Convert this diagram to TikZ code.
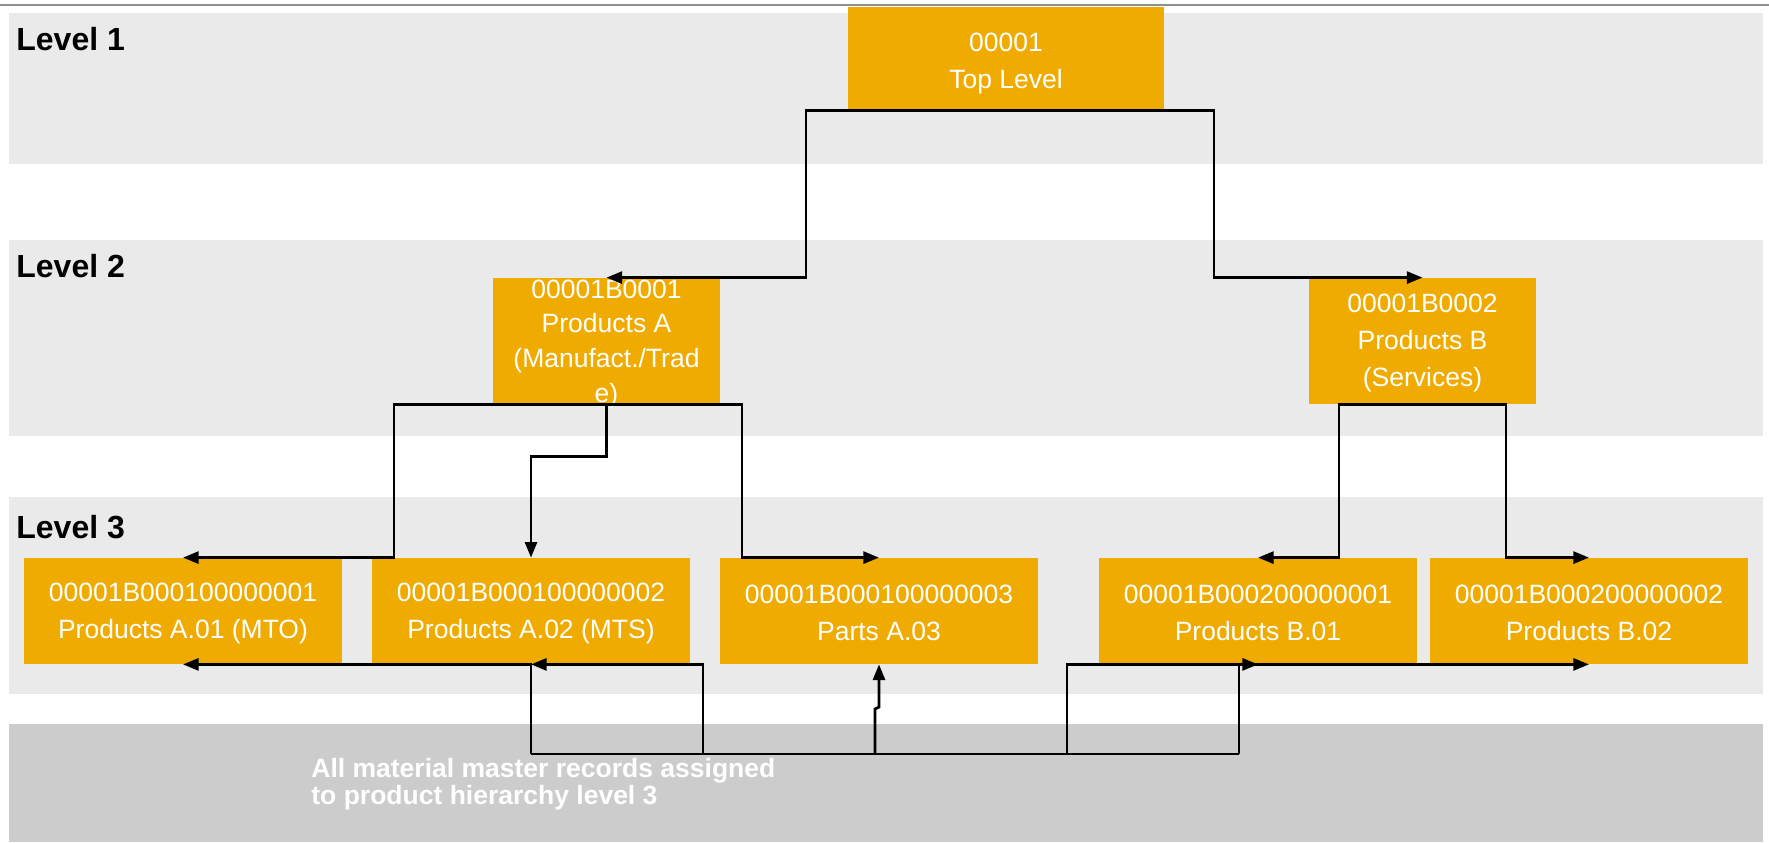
\documentclass[tikz,border=0pt]{standalone}
\usepackage{fontspec}
\setmainfont{Liberation Sans}
\usetikzlibrary{arrows.meta}
\definecolor{sapgold}{HTML}{F0AB00}
\definecolor{bandgray}{HTML}{EAEAEA}
\definecolor{basegray}{HTML}{CCCCCC}
\definecolor{rulegray}{HTML}{8F8F8F}
\tikzset{
  band/.style={fill=bandgray, draw=none},
  box/.style={fill=sapgold, draw=none, text=white, align=center, inner sep=0pt,
    font=\fontsize{13.25pt}{18.5pt}\selectfont},
  topbox/.style={box, minimum width=158pt, minimum height=51.5pt},
  ltwobox/.style={box, minimum width=113.5pt, minimum height=63pt, inner ysep=-6pt},
  lthreebox/.style={box, minimum width=159pt, minimum height=53pt},
  lvl/.style={anchor=base west, inner sep=0pt, font=\bfseries\fontsize{16pt}{19pt}\selectfont},
  conn/.style={draw=black, line width=1.35pt, -{Triangle[length=7.8pt,width=6pt]}},
  plainconn/.style={draw=black, line width=1.35pt},
}
\newcommand{\firststrut}[1]{\rule{0pt}{#1}}
\begin{document}
\begin{tikzpicture}[x=0.5pt, y=-0.5pt]
  \useasboundingbox (0,0) rectangle (1769,842);
  \fill[white] (0,0) rectangle (1769,842);
  % bands
  \fill[band] (9,13) rectangle (1763,164);
  \fill[band] (9,240) rectangle (1763,436);
  \fill[band] (9,497) rectangle (1763,694);
  \fill[basegray] (9,724) rectangle (1763,842);
  \draw[rulegray, line width=1.2pt] (0,5) -- (1769,5);
  % level labels
  \node[lvl] (lv1) at (16,50) {Level 1};
  \node[lvl] (lv2) at (16,277) {Level 2};
  \node[lvl] (lv3) at (16,538) {Level 3};
  % boxes
  \node[topbox] (top) at (1006,58.5) {\firststrut{14pt}00001\\Top Level};
  \node[ltwobox, font=\fontsize{13.25pt}{17.3pt}\selectfont] (A) at (606.5,341)
    {\firststrut{12pt}00001B0001\\Products A\\(Manufact./Trad\\e)};
  \node[ltwobox] (B) at (1422.5,341) {\firststrut{11pt}00001B0002\\Products B\\(Services)};
  \node[lthreebox] (b1) at (183,611) {\firststrut{11.5pt}00001B000100000001\\Products A.01 (MTO)};
  \node[lthreebox] (b2) at (531,611) {\firststrut{11.5pt}00001B000100000002\\Products A.02 (MTS)};
  \node[lthreebox] (b3) at (879,611) {\firststrut{11.5pt}00001B000100000003\\Parts A.03};
  \node[lthreebox] (b4) at (1258,611) {\firststrut{11.5pt}00001B000200000001\\Products B.01};
  \node[lthreebox] (b5) at (1589,611) {\firststrut{11.5pt}00001B000200000002\\Products B.02};
  % bottom note
  \node[anchor=north west, inner sep=0pt, align=left, text=white,
    font=\bfseries\fontsize{13.25pt}{13.5pt}\selectfont] (note) at (311,758)
    {All material master records assigned\\to product hierarchy level 3};
  % level 1 -> level 2
  \draw[conn] (top.south) -- ++(-200,0) |- (A.north);
  \draw[conn] (top.south) -- ++(208,0) |- (B.north);
  % level 2 -> level 3
  \draw[conn] (A.south) -- ++(-212.5,0) |- (b1.north);
  \draw[conn] (A.south) -- ++(0,52) -| (b2.north);
  \draw[conn] (A.south) -- ++(135.5,0) |- (b3.north);
  \draw[conn] (B.south) -- ++(-83.5,0) |- (b4.north);
  \draw[conn] (B.south) -- ++(83.5,0) |- (b5.north);
  % material master records -> level 3
  \coordinate (h1) at (531,754);
  \coordinate (h2) at (703,754);
  \coordinate (h3) at (875,754);
  \coordinate (h4) at (1067,754);
  \coordinate (h5) at (1239,754);
  \draw[plainconn] (h1) -- (h5);
  \draw[conn] (h1) |- (b1.south);
  \draw[conn] (h2) |- (b2.south);
  \draw[conn] (h3) -- ++(0,-45) -- ++(4,-2) -- (b3.south);
  \draw[conn] (h4) |- (b4.south);
  \draw[conn] (h5) |- (b5.south);
\end{tikzpicture}
\end{document}
